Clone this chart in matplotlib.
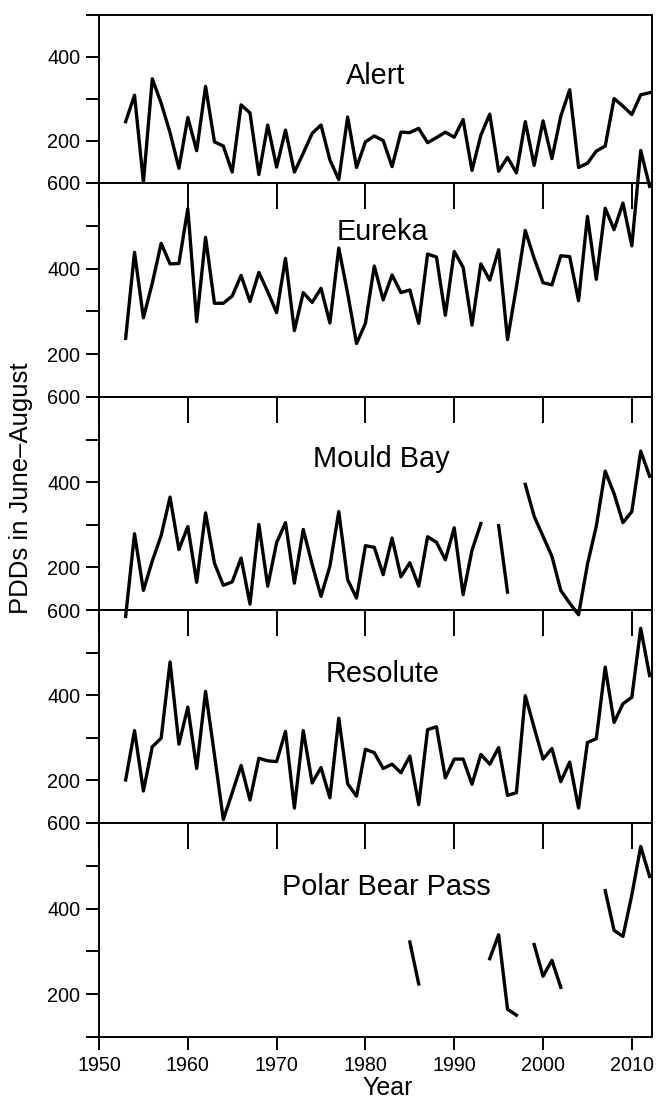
import numpy as np
import matplotlib
matplotlib.use("Agg")
import matplotlib.pyplot as plt

plt.rcParams['font.family'] = ['Liberation Sans', 'DejaVu Sans']

nan = np.nan
years = list(range(1953, 2013))

alert = [246, 309, 102, 348, 290, 220, 135, 256, 177, 330,
         198, 188, 126, 286, 267, 120, 238, 138, 226, 126,
         171, 218, 238, 155, 108, 257, 137, 198, 212, 201,
         139, 221, 220, 230, 196, 208, 221, 209, 251, 130,
         214, 264, 128, 161, 124, 246, 142, 248, 158, 259,
         322, 137, 147, 176, 188, 301, 283, 263, 310, 315]

eureka = [237, 438, 285, 366, 459, 411, 412, 540, 276, 473,
          319, 319, 336, 384, 323, 391, 346, 297, 424, 255,
          344, 321, 354, 273, 448, 342, 225, 272, 406, 327,
          385, 344, 350, 272, 434, 427, 291, 440, 403, 268,
          411, 373, 444, 234, 357, 489, 424, 367, 362, 430,
          428, 325, 522, 375, 541, 491, 553, 453, 676, 592]

mould_bay = [85, 279, 146, 215, 275, 365, 242, 296, 165, 328,
             210, 158, 166, 222, 114, 301, 156, 258, 305, 163,
             289, 207, 132, 203, 331, 171, 128, 251, 247, 183,
             269, 178, 211, 156, 272, 259, 218, 293, 136, 240,
             303, nan, 298, 142, nan, 395, 320, 273, 226, 146,
             116, 89, 207, 297, 426, 373, 305, 331, 473, 414]

resolute = [201, 317, 175, 279, 299, 478, 285, 372, 228, 409,
            260, 108, 171, 235, 154, 252, 246, 244, 315, 135,
            317, 194, 230, 159, 346, 192, 163, 273, 265, 228,
            238, 218, 257, 143, 319, 326, 206, 250, 250, 191,
            261, 238, 277, 165, 171, 399, 324, 250, 275, 197,
            243, 135, 289, 298, 466, 336, 380, 395, 557, 446]

polar_bear_pass = [nan, nan, nan, nan, nan, nan, nan, nan, nan, nan,
                   nan, nan, nan, nan, nan, nan, nan, nan, nan, nan,
                   nan, nan, nan, nan, nan, nan, nan, nan, nan, nan,
                   nan, nan, 322, 224, nan, nan, nan, nan, nan, nan,
                   nan, 283, 339, 165, 151, nan, 316, 242, 279, 216,
                   nan, nan, nan, nan, 442, 349, 335, 432, 545, 475]

stations = ["Alert", "Eureka", "Mould Bay", "Resolute", "Polar Bear Pass"]
series = [alert, eureka, mould_bay, resolute, polar_bear_pass]
ylims = [(100, 500), (100, 600), (100, 600), (100, 600), (100, 600)]
yticks_all = [[100, 200, 300, 400, 500], [100, 200, 300, 400, 500, 600],
              [100, 200, 300, 400, 500, 600], [100, 200, 300, 400, 500, 600],
              [100, 200, 300, 400, 500, 600]]
xticks = [1950, 1960, 1970, 1980, 1990, 2000, 2010]

W, H = 656, 1098
fig = plt.figure(figsize=(W / 100, H / 100), dpi=100)

bounds = [15, 183, 397, 610, 823, 1037]
left_px, right_px = 99, 652
title_pos = [(0.500, 0.589), (0.512, 0.734), (0.510, 0.671), (0.512, 0.662), (0.520, 0.664)]

lw_axis = 1.4
for i, (name, vals) in enumerate(zip(stations, series)):
    top, bot = bounds[i], bounds[i + 1]
    ax = fig.add_axes([left_px / W, 1 - bot / H, (right_px - left_px) / W, (bot - top) / H])
    ax.set_facecolor('none')
    ax.plot(years, np.array(vals, dtype=float), color='black', lw=2.4, clip_on=False, zorder=3)
    ax.set_xlim(1950, 2012.27)
    ax.set_ylim(*ylims[i])
    ax.set_yticks(yticks_all[i])
    ax.set_yticklabels([str(v) if v in (200, 400, 600) else "" for v in yticks_all[i]],
                       fontsize=14.3)
    ax.set_xticks(xticks)
    for s in ax.spines.values():
        s.set_linewidth(lw_axis)
    ax.tick_params(axis='y', direction='out', length=9.5, width=lw_axis, pad=4)
    if i < len(stations) - 1:
        ax.tick_params(axis='x', direction='out', length=18.7, width=lw_axis, labelbottom=False)
    else:
        ax.tick_params(axis='x', direction='out', length=9.5, width=lw_axis, labelsize=14.2, pad=4)
    tx, ty = title_pos[i]
    ax.text(tx, ty, name, transform=ax.transAxes, ha='center', va='baseline', fontsize=20.8)

fig.text(21 / W, 1 - 488 / H, "PDDs in June\u2013August", rotation=90, ha='center', va='center',
         fontsize=18.5)
fig.text(388 / W, 3 / H, "Year", ha='center', va='baseline', fontsize=18)

fig.savefig("out.png", dpi=100)
